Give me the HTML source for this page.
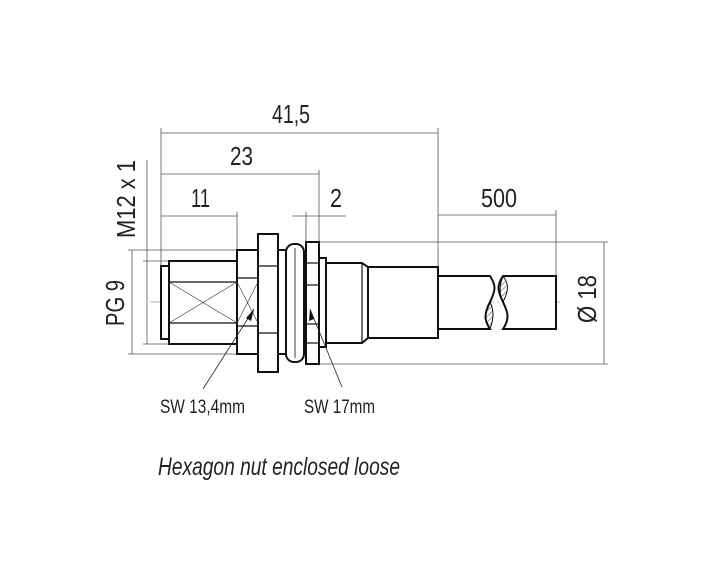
<!DOCTYPE html>
<html><head><meta charset="utf-8"><style>
html,body{margin:0;padding:0;background:#fff;}
svg{display:block}
text{font-family:"Liberation Sans Narrow","Liberation Sans",sans-serif;fill:#222;}
</style></head><body>
<svg width="705" height="583" viewBox="0 0 705 583" xmlns="http://www.w3.org/2000/svg">
<defs>
<pattern id="h" width="4" height="4" patternUnits="userSpaceOnUse" patternTransform="rotate(45)"><line x1="0" y1="0" x2="0" y2="4" stroke="#444" stroke-width="1"/></pattern>
</defs>
<g stroke="#555" stroke-width="0.8" fill="none">
<line x1="161" y1="128" x2="161" y2="266"/>
<line x1="438" y1="128" x2="438" y2="276"/>
<line x1="319" y1="170" x2="319" y2="242"/>
<line x1="237" y1="212" x2="237" y2="250"/>
<line x1="306" y1="212" x2="306" y2="242"/>
<line x1="556" y1="210" x2="556" y2="276"/>
<line x1="161" y1="133" x2="438" y2="133"/>
<line x1="161" y1="174" x2="319" y2="174"/>
<line x1="161" y1="216" x2="237" y2="216"/>
<line x1="292" y1="216" x2="346" y2="216"/>
<line x1="438" y1="215" x2="556" y2="215"/>
<line x1="132" y1="250" x2="132" y2="354"/>
<line x1="147" y1="261" x2="147" y2="344"/>
<line x1="128" y1="250" x2="237" y2="250"/>
<line x1="128" y1="354" x2="237" y2="354"/>
<line x1="143" y1="261" x2="169" y2="261"/>
<line x1="143" y1="344" x2="169" y2="344"/>
<line x1="147" y1="160" x2="147" y2="261"/>
<line x1="319" y1="242" x2="608" y2="242"/>
<line x1="319" y1="364" x2="608" y2="364"/>
<line x1="604" y1="242" x2="604" y2="364"/>
<line x1="150" y1="302" x2="560" y2="302" stroke-dasharray="14 3 2 3" stroke="#999"/>
</g>
<g stroke="#111" stroke-width="2" fill="#fff">
<rect x="161" y="266" width="8" height="73"/>
<rect x="169" y="261" width="68" height="83"/>
<rect x="237" y="250" width="21" height="104"/>
<rect x="278" y="250" width="8" height="104"/>
<rect x="286" y="244" width="18" height="118" rx="8"/>
<rect x="258" y="234" width="20" height="138"/>
<rect x="306" y="242" width="13" height="122"/>
<rect x="319" y="258" width="7" height="89"/>
<path d="M326 263 H362 L368 267 V338 L362 343 H326 Z"/>
<rect x="368" y="267" width="70" height="71"/>
<path d="M438 276 H490 C496 285 496 290 490 302 C484 314 484 320 490 329 H438 Z"/>
<path d="M556 276 H503 C497 285 497 290 503 302 C509 314 509 320 503 329 H556 Z"/>
</g>
<g stroke="#111" stroke-width="1.2" fill="none">
<line x1="169" y1="282" x2="237" y2="282"/><line x1="169" y1="323" x2="237" y2="323"/>
<line x1="237" y1="278" x2="258" y2="278"/><line x1="237" y1="326" x2="258" y2="326"/>
<line x1="258" y1="266" x2="278" y2="266"/><line x1="258" y1="333" x2="278" y2="333"/>
<line x1="306" y1="263" x2="319" y2="263"/><line x1="306" y1="285" x2="319" y2="285"/>
<line x1="306" y1="324" x2="319" y2="324"/><line x1="306" y1="343" x2="319" y2="343"/>
<line x1="362" y1="263" x2="362" y2="343"/>
<line x1="295" y1="248" x2="295" y2="358" stroke-width="0.8"/>
</g>
<g stroke="#333" stroke-width="0.6">
<line x1="169" y1="282" x2="237" y2="323"/><line x1="169" y1="323" x2="237" y2="282"/>
<line x1="237" y1="282" x2="258" y2="323"/><line x1="237" y1="323" x2="258" y2="282"/>
</g>
<path d="M490 302 C484 314 484 320 490 329 C494 318 494 310 490 302Z" fill="url(#h)" stroke="#111"/>
<path d="M503 302 C509 290 509 284 503 276 C499 286 499 294 503 302Z" fill="url(#h)" stroke="#111"/>
<g stroke="#222" stroke-width="0.8">
<line x1="203" y1="389" x2="254" y2="309"/>
<line x1="342" y1="387" x2="310" y2="309"/>
</g>
<polygon points="254,309 246,318 251,321" fill="#111"/>
<polygon points="310,309 309,321 314,319" fill="#111"/>
<g font-size="26" lengthAdjust="spacingAndGlyphs">
<text x="272" y="123" textLength="38" lengthAdjust="spacingAndGlyphs">41,5</text>
<text x="230" y="165" textLength="23" lengthAdjust="spacingAndGlyphs">23</text>
<text x="191" y="207" textLength="19" lengthAdjust="spacingAndGlyphs">11</text>
<text x="330" y="207" textLength="12" lengthAdjust="spacingAndGlyphs">2</text>
<text x="481" y="207" textLength="36" lengthAdjust="spacingAndGlyphs">500</text>
<text transform="translate(135,238) rotate(-90)" textLength="78" lengthAdjust="spacingAndGlyphs">M12 x 1</text>
<text transform="translate(124,326) rotate(-90)" textLength="46" lengthAdjust="spacingAndGlyphs">PG 9</text>
<text transform="translate(596,323) rotate(-90)" textLength="48" lengthAdjust="spacingAndGlyphs">Ø 18</text>
</g>
<g font-size="19">
<text x="160" y="413" textLength="85" lengthAdjust="spacingAndGlyphs">SW 13,4mm</text>
<text x="304" y="413" textLength="71" lengthAdjust="spacingAndGlyphs">SW 17mm</text>
</g>
<text x="158" y="475" font-size="25" font-style="italic" textLength="242" lengthAdjust="spacingAndGlyphs">Hexagon nut enclosed loose</text>
</svg>
</body></html>
